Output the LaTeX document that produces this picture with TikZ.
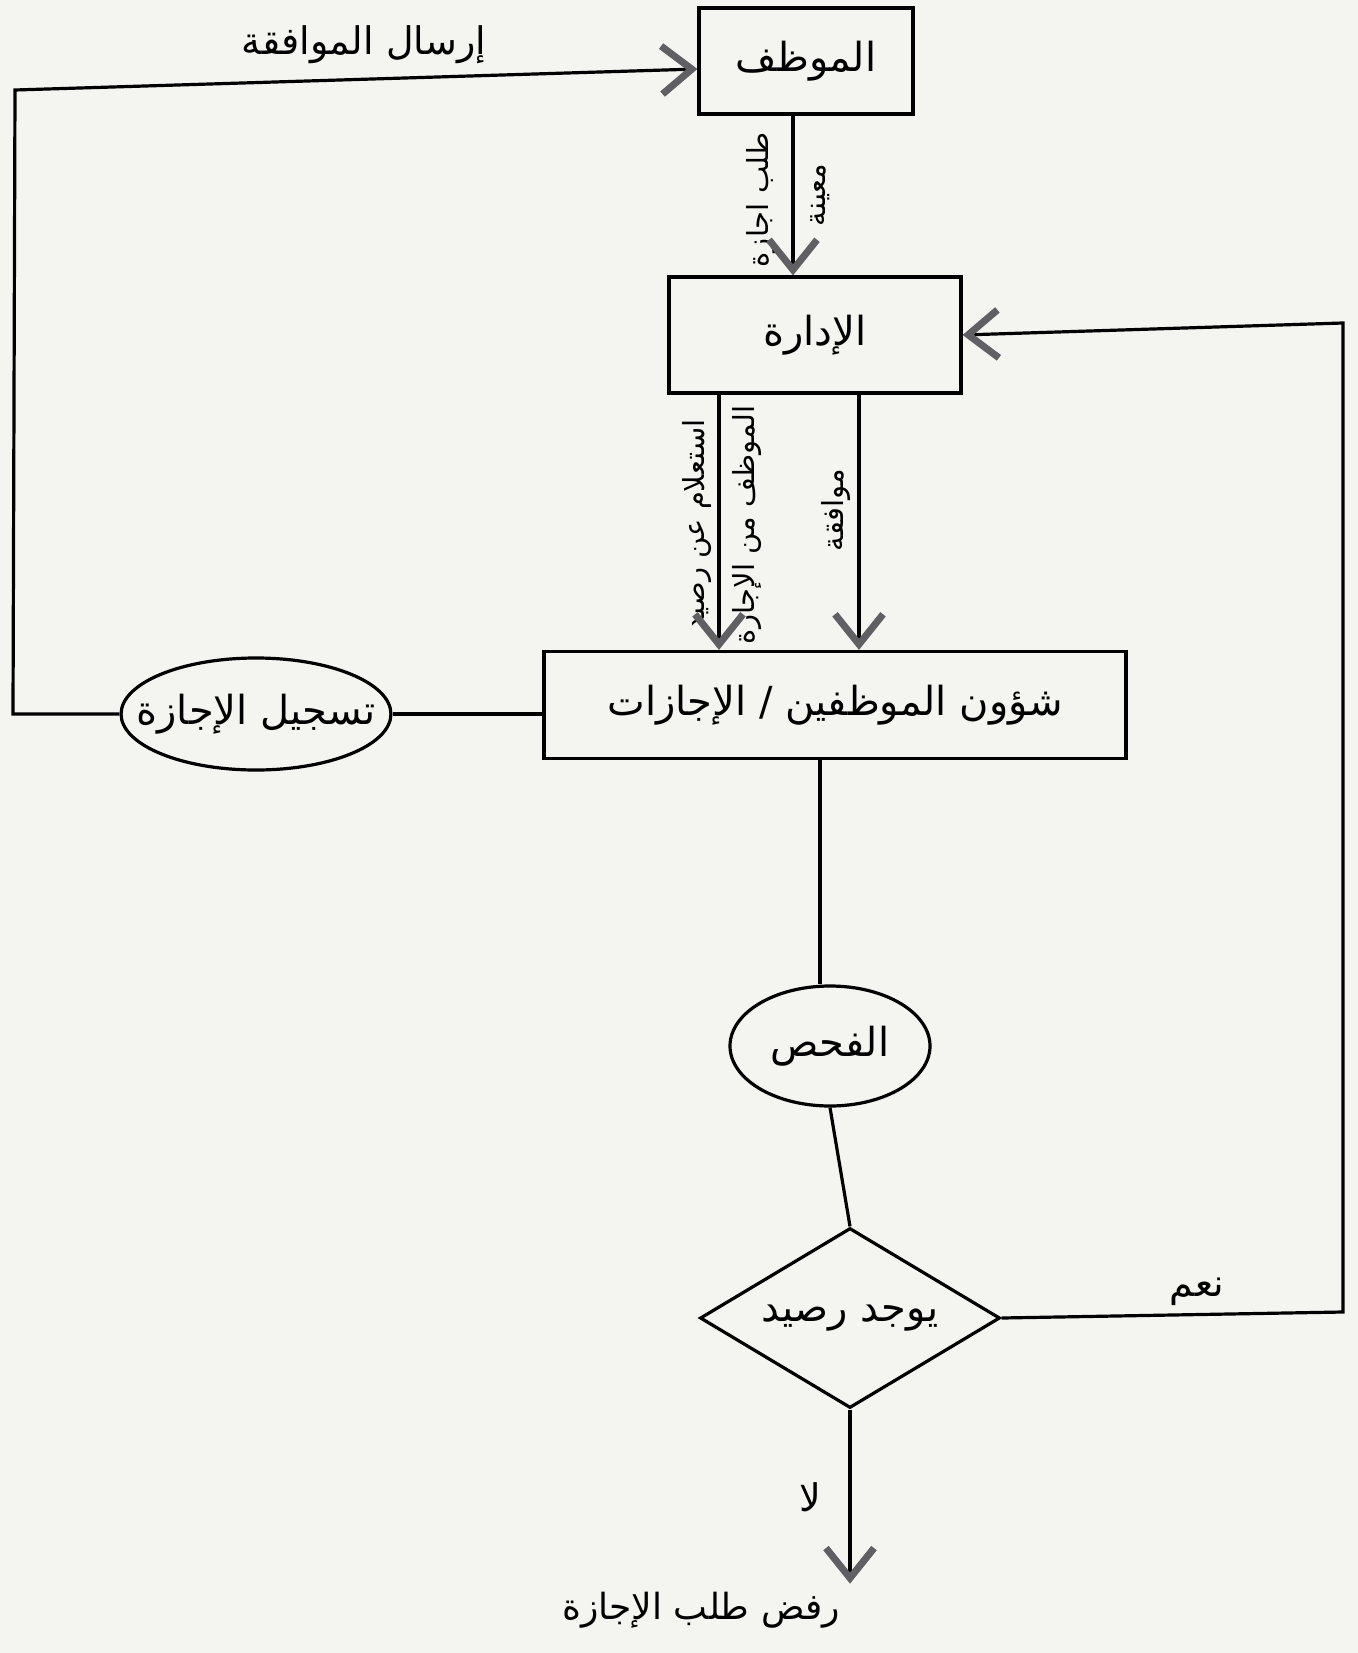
\documentclass[tikz,border=0pt]{standalone}
\usepackage{fontspec}
\newfontfamily\arabicfont[Script=Arabic]{DejaVu Sans}
\TeXXeTstate=1
\usetikzlibrary{arrows.meta,shapes.geometric}
\definecolor{paper}{RGB}{244,244,240}
\definecolor{tipgray}{RGB}{95,95,100}
\newcommand\artxt[1]{\beginR #1\endR}
\tikzset{every node/.style={font=\arabicfont\fontsize{20}{24}\selectfont},line cap=round,line join=round}

\begin{document}
\begin{tikzpicture}[x=0.5pt,y=-0.5pt,line width=1.6pt,
    box/.style={draw,rectangle,inner sep=0pt},
    oval/.style={draw,ellipse,inner sep=0pt},
    decision/.style={draw,diamond,aspect=1.65,inner sep=0pt,minimum width=150pt,minimum height=90pt},
    lbl/.style={font=\arabicfont\fontsize{19}{22}\selectfont},
    vlbl/.style={font=\arabicfont\fontsize{14.5}{17}\selectfont,rotate=90},
    arr/.style={-{Straight Barb[length=15pt,width=24pt,line width=3.5pt,color=tipgray]}}]
  \path[fill=paper,use as bounding box] (0,0) rectangle (1358,1653);

  % boxes and shapes
  \node[box,minimum width=107pt,minimum height=53pt] (emp) at (806,61) {\artxt{الموظف}};
  \node[box,minimum width=146pt,minimum height=58pt] (adm) at (815,335) {\artxt{الإدارة}};
  \node[box,minimum width=291pt,minimum height=53.5pt] (hr) at (835,705) {\artxt{شؤون الموظفين / الإجازات}};
  \node[oval,inner xsep=-12pt,minimum width=132pt,minimum height=56pt] (reg) at (256,714) {\artxt{تسجيل الإجازة}};
  \node[oval,minimum width=100pt,minimum height=60pt] (check) at (830,1046) {\artxt{الفحص}};
  \node[decision] (dia) at (850,1318) {\artxt{يوجد رصيد}};
  \node[font=\arabicfont\fontsize{18}{22}\selectfont] (rej) at (701,1610) {\artxt{رفض طلب الإجازة}};

  % labels
  \node[lbl] (send) at (364,45) {\artxt{إرسال الموافقة}};
  \node[vlbl] (req1) at (761,200) {\artxt{طلب اجازة}};
  \node[vlbl] (req2) at (820,195) {\artxt{معينة}};
  \node[vlbl] (inq1) at (697,525) {\artxt{استعلام عن رصيد}};
  \node[vlbl] (inq2) at (747,525) {\artxt{الموظف من الإجازة}};
  \node[vlbl] (ok) at (836,510) {\artxt{موافقة}};
  \node[lbl] (yes) at (1197,1292) {\artxt{نعم}};
  \node[lbl] (no) at (810,1497) {\artxt{لا}};

  \coordinate (tl) at (15,90);
  \coordinate (bl) at (13,714);
  \coordinate (tr) at (1343,323);
  \coordinate (br) at (1343,1312);

  % connectors
  \draw[arr] (reg.west) -- (bl) -- (tl) -- ([yshift=-4pt]emp.west);
  \draw (reg.east) -- (reg.east -| hr.west);
  \draw[arr] ([xshift=-6.5pt]emp.south) -- ([xshift=-6.5pt]emp.south |- adm.north);
  \draw[arr] ([xshift=-48pt]adm.south) -- ([xshift=-48pt]adm.south |- hr.north);
  \draw[arr] ([xshift=22pt]adm.south) -- ([xshift=22pt]adm.south |- hr.north);
  \draw ([xshift=-5pt]check.north |- hr.south) -- ([xshift=-5pt]check.north);
  \draw (check.south) -- (dia.north);
  \draw[arr] (dia.east) -- (br) -- (tr) -- (adm.east);
  \draw[arr] (dia.south) -- (dia.south |- rej.north);
\end{tikzpicture}
\end{document}
